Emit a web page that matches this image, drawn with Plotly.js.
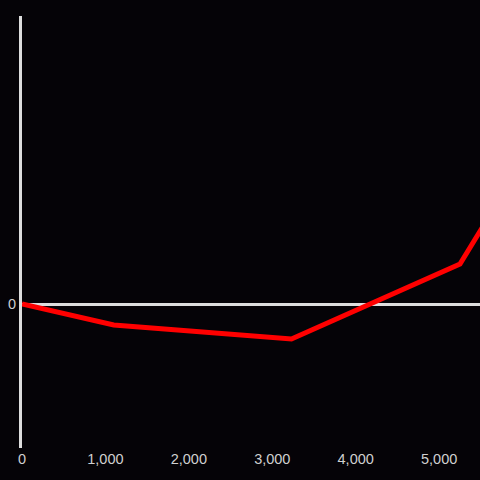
<!DOCTYPE html>
<html>
<head>
<meta charset="utf-8">
<script src="https://cdn.plot.ly/plotly-3.0.1.min.js"></script>
<style>html,body{margin:0;padding:0;background:#050307;}</style>
</head>
<body>
<div id="chart" style="width:480px;height:480px;"></div>
<script>
const xValues = [0, 1100, 3230, 5250, 5520];
const yValues = [0, -21.9, -36.5, 41.7, 80];
const xTickVals = [0, 1000, 2000, 3000, 4000, 5000];
const xTickText = ['0', '1,000', '2,000', '3,000', '4,000', '5,000'];
const yTickVals = [0];
const yTickText = ['0'];

Plotly.newPlot('chart', [{
  x: xValues,
  y: yValues,
  type: 'scatter',
  mode: 'lines',
  line: {color: '#ff0000', width: 5},
  hoverinfo: 'skip'
}], {
  width: 480,
  height: 480,
  paper_bgcolor: '#050307',
  plot_bgcolor: '#050307',
  margin: {l: 22, r: 0, t: 16, b: 32},
  showlegend: false,
  font: {family: 'Liberation Sans, Arial, sans-serif', size: 14.5, color: '#d0d0d0'},
  xaxis: {
    range: [0, 5490],
    tickvals: xTickVals,
    ticktext: xTickText,
    showgrid: false,
    zeroline: false,
    showline: false,
    ticks: '',
    fixedrange: true
  },
  yaxis: {
    range: [-150, 300],
    tickvals: yTickVals,
    ticktext: yTickText,
    showgrid: false,
    zeroline: true,
    zerolinecolor: '#dddddd',
    zerolinewidth: 3,
    showline: true,
    linecolor: '#dddddd',
    linewidth: 3,
    ticks: '',
    fixedrange: true
  }
}, {displayModeBar: false, staticPlot: true});
</script>
</body>
</html>
